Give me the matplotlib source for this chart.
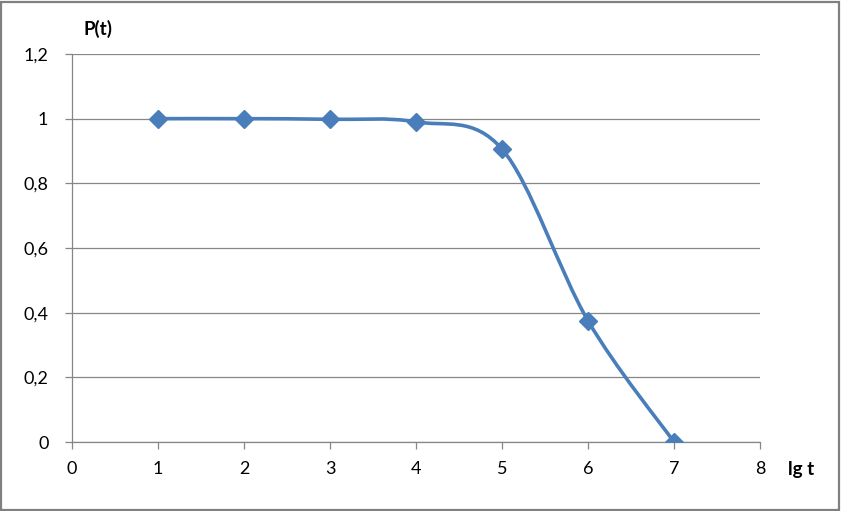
import matplotlib
matplotlib.use("Agg")
import matplotlib.pyplot as plt
from matplotlib.path import Path
from matplotlib.patches import PathPatch, Rectangle
import numpy as np

lg_t = [1, 2, 3, 4, 5, 6, 7]
p_t = [1.0, 1.0, 0.998, 0.99, 0.906, 0.375, 0.0]
x_ticks = [0, 1, 2, 3, 4, 5, 6, 7, 8]
y_ticks = [0, 0.2, 0.4, 0.6, 0.8, 1.0, 1.2]
y_labels = ["0", "0,2", "0,4", "0,6", "0,8", "1", "1,2"]

blue = "#4A7EBB"
grid_c = "#868686"

plt.rcParams["font.family"] = ["Lato", "DejaVu Sans"]

fig = plt.figure(figsize=(8.41, 5.11), dpi=100)
fig.patches.append(Rectangle((0.001, 0.002), 0.997, 0.995, transform=fig.transFigure,
                             fill=False, edgecolor="#808080", linewidth=1.6))
ax = fig.add_axes([72 / 841, 69 / 511, 688 / 841, 388 / 511])

# smoothed line, Excel-style bezier through the points
pts = np.column_stack([lg_t, p_t])
verts = [tuple(pts[0])]
codes = [Path.MOVETO]
n = len(pts)
for i in range(n - 1):
    p0 = pts[max(i - 1, 0)]
    p1 = pts[i]
    p2 = pts[i + 1]
    p3 = pts[min(i + 2, n - 1)]
    c1 = p1 + (p2 - p0) / 6
    c2 = p2 - (p3 - p1) / 6
    verts += [tuple(c1), tuple(c2), tuple(p2)]
    codes += [Path.CURVE4] * 3
ax.add_patch(PathPatch(Path(verts, codes), fill=False, edgecolor=blue, linewidth=2.6,
                       zorder=3, capstyle="round"))
ax.plot(lg_t, p_t, linestyle="none", marker="D", markersize=9.5, color=blue, zorder=4)

ax.set_xlim(0, 8)
ax.set_ylim(0, 1.2)
ax.set_xticks(x_ticks)
ax.set_yticks(y_ticks)
ax.set_yticklabels(y_labels)
ax.grid(axis="y", color=grid_c, linewidth=0.9)
ax.set_axisbelow(True)
for s in ["top", "right"]:
    ax.spines[s].set_visible(False)
for s in ["left", "bottom"]:
    ax.spines[s].set_color(grid_c)
    ax.spines[s].set_linewidth(0.9)
ax.tick_params(axis="both", direction="out", length=5, width=0.9, color=grid_c,
               labelsize=13, labelcolor="black")
ax.tick_params(axis="x", pad=9)
ax.tick_params(axis="y", pad=12)

fig.text(98 / 841, 1 - 29 / 511, "P(t)", fontsize=13.5, fontweight="bold", ha="center", va="center")
fig.text(801 / 841, 1 - 470 / 511, "lg t", fontsize=13.5, fontweight="bold", ha="center", va="center")

fig.savefig("out.png", dpi=100)
